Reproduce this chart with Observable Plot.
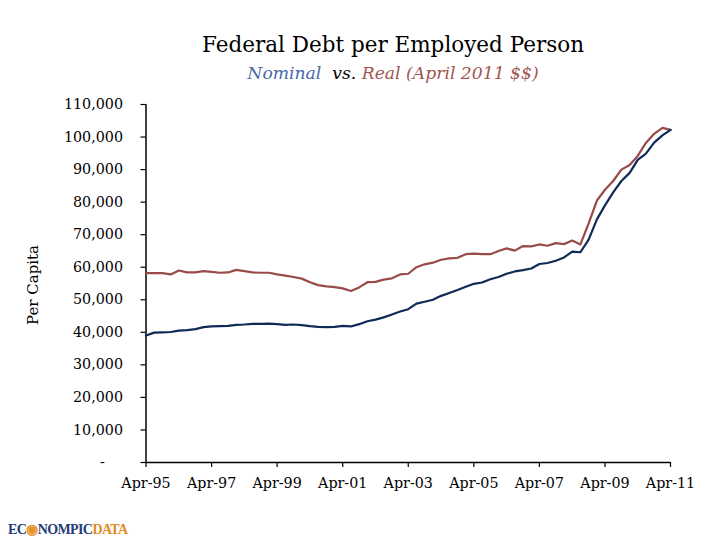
<!DOCTYPE html>
<html>
<head>
<meta charset="utf-8">
<script src="https://cdn.jsdelivr.net/npm/d3@7"></script>
<script src="https://cdn.jsdelivr.net/npm/@observablehq/plot@0.6"></script>
<style>
  html, body { margin: 0; padding: 0; background: #fff; }
  #wrap { position: relative; width: 721px; height: 545px; overflow: hidden; background: #fff; font-family: "DejaVu Serif", serif; }
  .title { position: absolute; left: 0; width: 786px; text-align: center; white-space: nowrap; line-height: 1; }
  #t1 { top: 34px; font-size: 21.5px; color: #000; }
  #t2 { top: 65px; font-size: 17.2px; font-style: italic; color: #000; }
  #ylab { position: absolute; left: 33px; top: 285px; transform: translate(-50%, -50%) rotate(-90deg); font-size: 15px; white-space: nowrap; line-height: 1; }
  #chart { position: absolute; left: 0; top: 90px; }
  #logo { position: absolute; left: 8px; top: 523px; font-family: "Liberation Serif", serif; font-weight: bold; font-size: 14px; letter-spacing: -0.6px; line-height: 1; }
</style>
</head>
<body>
<div id="wrap">
  <div class="title" id="t1">Federal Debt per Employed Person</div>
  <div class="title" id="t2"><span style="color:#4a6aa8">Nominal</span>&nbsp; vs. <span style="color:#a0564f">Real (April 2011 $$)</span></div>
  <div id="ylab">Per Capita</div>
  <div id="chart"></div>
  <div id="logo"><span style="color:#1f3c78">EC</span><span style="color:#e8902a">&#9673;</span><span style="color:#1f3c78">NOMPIC</span><span style="color:#e08a1e">DATA</span></div>
</div>
<script>
// Quarterly observations starting April 1995 (dollars per employed person)
const startMonth = "1995-04-01";
const nominal = [
  39000, 39900, 40000, 40100, 40500, 40700, 41000, 41600, 41800, 41900,
  42000, 42300, 42400, 42600, 42600, 42700, 42500, 42300, 42400, 42200,
  41900, 41700, 41600, 41700, 42000, 41800, 42500, 43400, 43900, 44600,
  45500, 46400, 47100, 48800, 49400, 50000, 51200, 52100, 53000, 54000,
  54900, 55300, 56300, 57000, 58000, 58700, 59100, 59600, 61000, 61300,
  62000, 63000, 64800, 64600, 68500, 74700, 79000, 83000, 86500, 89000,
  93000, 94900, 98300, 100500, 102200
];
const real = [
  58200, 58200, 58200, 57800, 59000, 58400, 58400, 58800, 58600, 58300,
  58400, 59200, 58800, 58400, 58300, 58300, 57800, 57400, 57000, 56500,
  55400, 54500, 54100, 53900, 53500, 52700, 53800, 55400, 55500, 56200,
  56600, 57800, 58000, 60000, 60900, 61400, 62300, 62700, 62900, 64000,
  64200, 64000, 64000, 65000, 65800, 65100, 66500, 66400, 67000, 66600,
  67400, 67100, 68200, 67000, 73500, 80500, 83800, 86500, 90000, 91400,
  94200, 98200, 101000, 102800, 102200
];
const yTicks = [0, 10000, 20000, 30000, 40000, 50000, 60000, 70000, 80000, 90000, 100000, 110000];
const xTickLabels = ["Apr-95", "Apr-97", "Apr-99", "Apr-01", "Apr-03", "Apr-05", "Apr-07", "Apr-09", "Apr-11"];

const start = new Date(startMonth);
const dates = nominal.map((_, i) => d3.utcMonth.offset(start, 3 * i));
const data = dates.map((d, i) => ({date: d, nominal: nominal[i], real: real[i]}));
const xTicks = xTickLabels.map(s => d3.utcParse("%b-%y")(s));
const xDomain = [xTicks[0], xTicks[xTicks.length - 1]];

const chart = Plot.plot({
  width: 721,
  height: 420,
  marginTop: 14,
  marginBottom: 48,
  marginLeft: 145.5,
  marginRight: 51,
  style: {fontFamily: "DejaVu Serif", fontSize: "14.3px", color: "#000", background: "transparent", overflow: "visible"},
  x: {type: "utc", domain: xDomain},
  y: {domain: [0, 110000]},
  marks: [
    Plot.axisY({
      ticks: yTicks, tickSize: 5, tickPadding: 18, label: null, strokeWidth: 1.2,
      tickFormat: d => d === 0 ? "-\u2007\u2007" : d3.format(",")(d)
    }),
    Plot.axisX({
      ticks: xTicks, tickSize: 5, tickPadding: 10, label: null, strokeWidth: 1.2,
      tickFormat: d3.utcFormat("%b-%y")
    }),
    Plot.ruleY([0], {stroke: "#000", strokeWidth: 1.5}),
    Plot.ruleX([xDomain[0]], {stroke: "#000", strokeWidth: 1.5}),
    Plot.line(data, {x: "date", y: "real", stroke: "#984b48", strokeWidth: 2.2}),
    Plot.line(data, {x: "date", y: "nominal", stroke: "#0e2b57", strokeWidth: 2.2})
  ]
});
document.getElementById("chart").appendChild(chart);
</script>
</body>
</html>
